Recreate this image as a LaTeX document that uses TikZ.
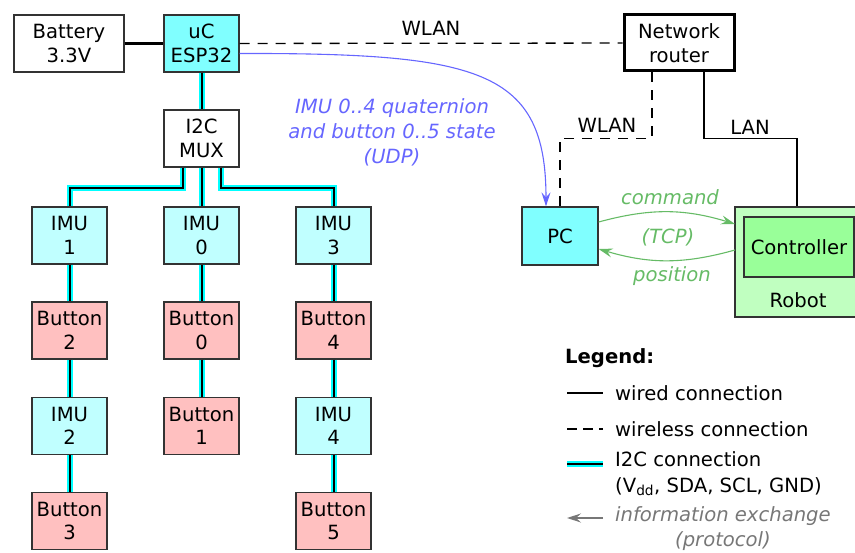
\documentclass[tikz,border=0pt]{standalone}
\usepackage{fontspec}
\setmainfont{DejaVu Sans}
\usetikzlibrary{arrows.meta}
\definecolor{edgegray}{HTML}{333333}
\definecolor{ucfill}{HTML}{80FFFF}
\definecolor{imufill}{HTML}{C0FFFF}
\definecolor{btnfill}{HTML}{FFC0C0}
\definecolor{robotfill}{HTML}{C0FFC0}
\definecolor{ctrlfill}{HTML}{99FF99}
\definecolor{udpblue}{HTML}{6666FF}
\definecolor{tcpgreen}{HTML}{66BB66}
\definecolor{infogray}{HTML}{777777}
\definecolor{i2ccyan}{HTML}{00FFFF}
\tikzset{
  box/.style={draw=edgegray, line width=1.3pt, minimum width=75pt, minimum height=57pt,
    inner sep=0pt, align=center},
  widebox/.style={box, minimum width=110pt},
  ucbox/.style={box, fill=ucfill},
  imubox/.style={box, fill=imufill},
  btnbox/.style={box, fill=btnfill},
  i2c/.style={line width=2pt, draw=black, preaction={draw=i2ccyan, line width=6pt}},
  wired/.style={line width=1.3pt, draw=black},
  wless/.style={line width=1.3pt, draw=black, dash pattern=on 10pt off 8pt},
  flowarrow/.style={arrows={-Stealth[length=14pt, width=9pt, inset=5pt]}},
  udp/.style={flowarrow, draw=udpblue, line width=1.1pt},
  tcp/.style={flowarrow, draw=tcpgreen, line width=1.1pt},
  lbl/.style={inner sep=0pt, align=center},
}
\begin{document}
\begin{tikzpicture}[x=1pt, y=-1pt, font=\fontsize{19.6}{23.5}\selectfont]
\useasboundingbox (0,0) rectangle (855,553);

% controller side
\node[widebox] (bat) at (69,43.5) {Battery\\3.3V};
\node[ucbox] (uc) at (201.5,43.5) {uC\\ESP32};
\node[box] (mux) at (201.5,138.5) {I2C\\MUX};

% sensor chains
\node[imubox] (imu1) at (69.5,235.5) {IMU\\1};
\node[imubox] (imu0) at (201.5,235.5) {IMU\\0};
\node[imubox] (imu3) at (333.5,235.5) {IMU\\3};
\node[btnbox] (btn2) at (69.5,330.5) {Button\\2};
\node[btnbox] (btn0) at (201.5,330.5) {Button\\0};
\node[btnbox] (btn4) at (333.5,330.5) {Button\\4};
\node[imubox] (imu2) at (69.5,426) {IMU\\2};
\node[btnbox] (btn1) at (201.5,426) {Button\\1};
\node[imubox] (imu4) at (333.5,426) {IMU\\4};
\node[btnbox] (btn3) at (69.5,521) {Button\\3};
\node[btnbox] (btn5) at (333.5,521) {Button\\5};

% network side
\node[widebox, draw=black, line width=3pt, minimum height=56pt] (router) at (679,43) {Network\\router};
\node[ucbox, minimum width=76pt, minimum height=58pt] (pc) at (560,236) {PC};
\node[box, fill=robotfill, minimum width=134pt, minimum height=110pt] (robot) at (802,262) {};
\node[lbl] (robotlbl) at (798,300) {Robot};
\node[box, fill=ctrlfill, minimum width=110pt, minimum height=60pt] (ctrl) at (799,247) {Controller};

% wired connections
\draw[wired, line width=2.5pt] (bat) -- (uc);
\draw[wired] ([xshift=25pt]router.south) -- ++(0,66) -| ([xshift=-5pt]robot.north);
\node[lbl] (lanlbl) at (750,127) {LAN};

% wireless connections
\draw[wless] (uc) -- (router);
\node[lbl] (wlan1) at (431,28) {WLAN};
\draw[wless] ([xshift=-27pt]router.south) -- ++(0,66) -| (pc.north);
\node[lbl] (wlan2) at (607,125) {WLAN};

% I2C bus
\draw[i2c] (uc) -- (mux);
\draw[i2c] (mux) -- (imu0);
\draw[i2c] ([xshift=-19pt]mux.south) -- ++(0,20) -| (imu1.north);
\draw[i2c] ([xshift=19pt]mux.south) -- ++(0,20) -| (imu3.north);
\draw[i2c] (imu1) -- (btn2);
\draw[i2c] (btn2) -- (imu2);
\draw[i2c] (imu2) -- (btn3);
\draw[i2c] (imu0) -- (btn0);
\draw[i2c] (btn0) -- (btn1);
\draw[i2c] (imu3) -- (btn4);
\draw[i2c] (btn4) -- (imu4);
\draw[i2c] (imu4) -- (btn5);

% data streams
\draw[udp] ([yshift=-10pt]uc.east) .. controls (480,53) and (546,70) .. ([xshift=-14pt]pc.north);
\node[lbl, text=udpblue, font=\fontsize{19.6}{25}\selectfont\itshape] (udplbl) at (392,132)
  {IMU 0..4 quaternion\\and button 0..5 state\\(UDP)};
\draw[tcp] ([yshift=14pt]pc.east) to[bend left=16] (735,224);
\draw[tcp] (735,250) to[bend left=16] ([yshift=-13pt]pc.east);
\node[lbl, text=tcpgreen, font=\fontsize{19.6}{23.5}\selectfont\itshape] (cmdlbl) at (670,197) {command};
\node[lbl, text=tcpgreen, font=\fontsize{19.6}{23.5}\selectfont\itshape] (tcplbl) at (668,237) {(TCP)};
\node[lbl, text=tcpgreen, font=\fontsize{19.6}{23.5}\selectfont\itshape] (poslbl) at (672,276) {position};

% legend
\node[lbl, anchor=west, font=\fontsize{19.6}{23.5}\selectfont\bfseries] (leg) at (565,358) {Legend:};
\coordinate (la1) at (567,393); \coordinate (lb1) at (603,393);
\draw[wired] (la1) -- (lb1);
\node[lbl, anchor=west] (legwired) at (615,393) {wired connection};
\coordinate (la2) at (567,429); \coordinate (lb2) at (603,429);
\draw[wless, dash pattern=on 10pt off 6pt] (la2) -- (lb2);
\node[lbl, anchor=west] (legwless) at (615,429) {wireless connection};
\coordinate (la3) at (567,464); \coordinate (lb3) at (603,464);
\draw[i2c] (la3) -- (lb3);
\node[lbl, anchor=north west, align=left, font=\fontsize{19.6}{26}\selectfont] (legi2c) at (615,451)
  {I2C connection\\(V\textsubscript{dd}, SDA, SCL, GND)};
\coordinate (la4) at (603,518); \coordinate (lb4) at (567,518);
\draw[flowarrow, draw=infogray, line width=1.1pt] (la4) -- (lb4);
\node[lbl, anchor=north west, text=infogray, font=\fontsize{19.6}{25}\selectfont\itshape] (leginfo) at (615,506)
  {information exchange\\(protocol)};
\end{tikzpicture}
\end{document}
